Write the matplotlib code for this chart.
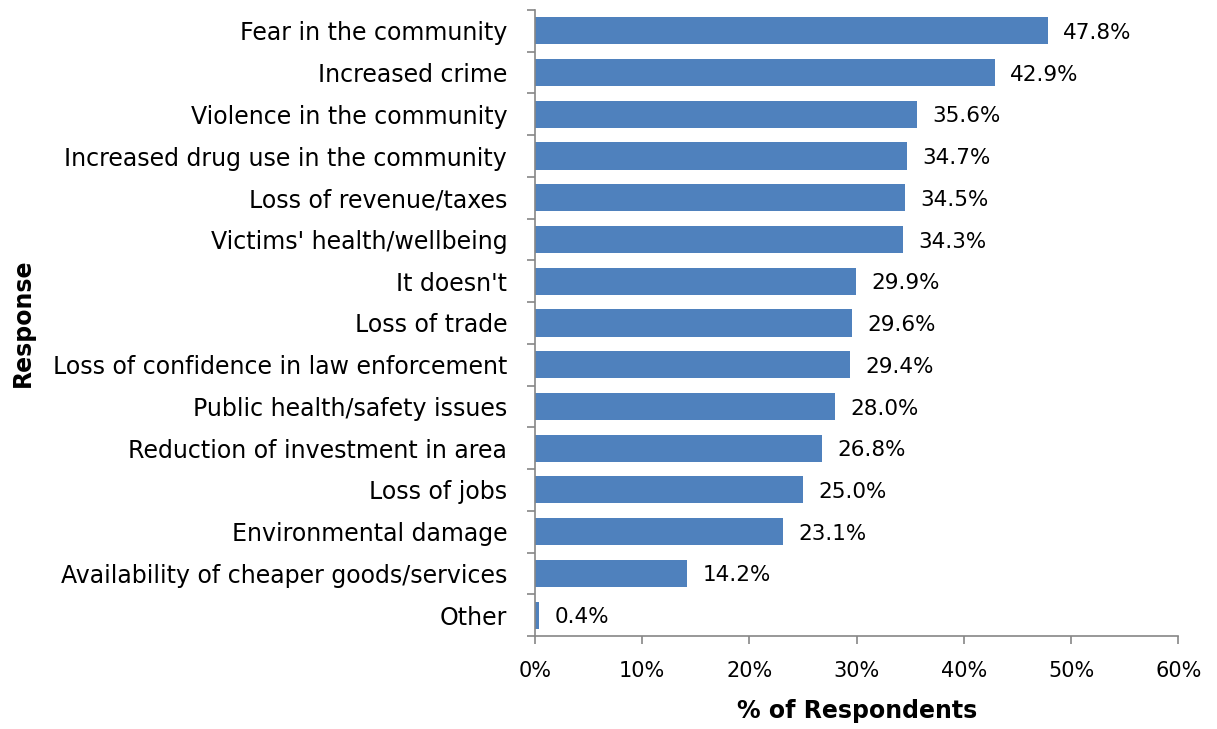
import matplotlib
matplotlib.use("Agg")
import matplotlib.pyplot as plt
from matplotlib.ticker import FuncFormatter, FixedLocator

categories = [
    "Fear in the community",
    "Increased crime",
    "Violence in the community",
    "Increased drug use in the community",
    "Loss of revenue/taxes",
    "Victims' health/wellbeing",
    "It doesn't",
    "Loss of trade",
    "Loss of confidence in law enforcement",
    "Public health/safety issues",
    "Reduction of investment in area",
    "Loss of jobs",
    "Environmental damage",
    "Availability of cheaper goods/services",
    "Other",
]
values = [47.8, 42.9, 35.6, 34.7, 34.5, 34.3, 29.9, 29.6, 29.4, 28.0, 26.8, 25.0, 23.1, 14.2, 0.4]
x_ticks = [0, 10, 20, 30, 40, 50, 60]

plt.rcParams["font.family"] = ["DejaVu Sans"]

fig = plt.figure(figsize=(12.17, 7.29), dpi=100)
ax = fig.add_axes([0.4396, 0.1276, 0.5287, 0.8587])

n = len(categories)
ypos = list(range(n))
ax.barh(ypos, values, height=0.65, color="#4F81BD", zorder=2)

for y, v in zip(ypos, values):
    ax.annotate(f"{v:.1f}%", xy=(v, y), xytext=(11, -1.5), textcoords="offset points",
                va="center", ha="left", fontsize=15.5, color="#000000")

ax.set_xlim(0, 60)
ax.set_ylim(n - 0.5, -0.5)
ax.xaxis.set_major_locator(FixedLocator(x_ticks))
ax.xaxis.set_major_formatter(FuncFormatter(lambda v, p: f"{v:.0f}%"))
ax.set_yticks(ypos)
ax.set_yticklabels(categories, fontsize=17)
ax.set_yticks([i - 0.5 for i in range(n + 1)], minor=True)
ax.tick_params(axis="y", which="major", length=0, pad=20)
ax.tick_params(axis="y", which="minor", length=6, color="#868686", width=1.2)
ax.tick_params(axis="x", which="major", length=6, color="#868686", width=1.2, labelsize=15, pad=12)

for side in ("top", "right"):
    ax.spines[side].set_visible(False)
for side in ("left", "bottom"):
    ax.spines[side].set_color("#868686")
    ax.spines[side].set_linewidth(1.2)

ax.set_xlabel("% of Respondents", fontsize=17, fontweight="bold")
ax.set_ylabel("Response", fontsize=17, fontweight="bold")
ax.xaxis.set_label_coords(0.5, -0.100)
ax.yaxis.set_label_coords(-0.778, 0.5)

fig.savefig("out.png", dpi=100)
